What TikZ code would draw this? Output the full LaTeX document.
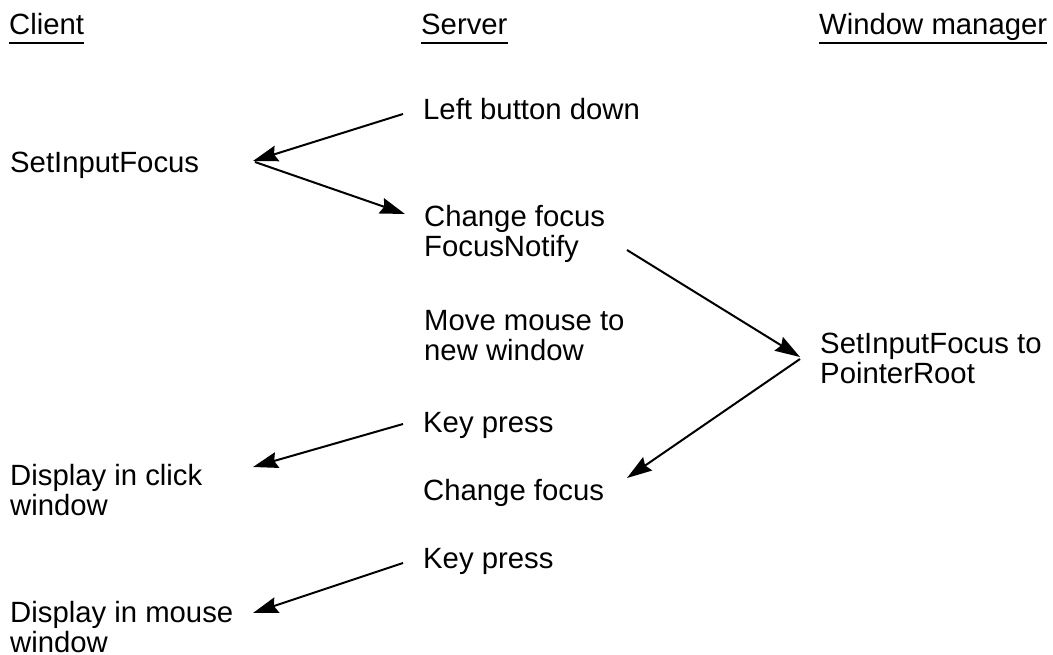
\documentclass[tikz,border=0pt]{standalone}
\usepackage{fontspec}
\setmainfont{Liberation Sans}
\usetikzlibrary{arrows.meta}
\newcommand{\mlines}[1]{\begin{tabular}[t]{@{}l@{}}#1\end{tabular}}
\begin{document}
\begin{tikzpicture}[x=1pt,y=-1pt,
  lbl/.style={inner sep=0pt,anchor=base west,font=\fontsize{29.3}{29.5}\selectfont},
  msg/.style={line width=2pt,-{Stealth[length=25pt,width=16pt,inset=3pt]}},
  uline/.style={line width=2pt}]
\useasboundingbox (0,0) rectangle (1053,654);
% headers
\node[lbl] (client) at (9,34) {Client};
\node[lbl] (server) at (421,34) {Server};
\node[lbl] (wm) at (819,34) {Window manager};
\draw[uline] ([yshift=-9pt]client.base west) -- ([yshift=-9pt]client.base east);
\draw[uline] ([yshift=-9pt]server.base west) -- ([yshift=-9pt]server.base east);
\draw[uline] ([yshift=-9pt]wm.base west) -- ([yshift=-9pt]wm.base east);
% texts
\node[lbl] (lbd) at (423,119) {Left button down};
\node[lbl] (sif) at (10,172) {SetInputFocus};
\node[lbl] (cf1) at (424,226) {\mlines{Change focus\\FocusNotify}};
\node[lbl] (mm) at (424,330) {\mlines{Move mouse to\\new window}};
\node[lbl] (sifpr) at (820,353) {\mlines{SetInputFocus to\\PointerRoot}};
\node[lbl] (kp1) at (423,432) {Key press};
\node[lbl] (dic) at (10,485) {\mlines{Display in click\\window}};
\node[lbl] (cf2) at (423,500) {Change focus};
\node[lbl] (kp2) at (423,568) {Key press};
\node[lbl] (dim) at (10,622) {\mlines{Display in mouse\\window}};
% arrows
\draw[msg] ([shift={(-20,-5)}]lbd.base west) -- ([shift={(243,-11)}]sif.base west);
\draw[msg] ([shift={(245,-10)}]sif.base west) -- ([shift={(-19,-12)}]cf1.base west);
\draw[msg] ([shift={(203,24)}]cf1.base west) -- ([shift={(-20,4)}]sifpr.base west);
\draw[msg] ([shift={(-20,6)}]sifpr.base west) -- ([shift={(204,-22)}]cf2.base west);
\draw[msg] ([shift={(-20,-8)}]kp1.base west) -- ([shift={(243,-18)}]dic.base west);
\draw[msg] ([shift={(-20,-5)}]kp2.base west) -- ([shift={(243,-9)}]dim.base west);
\end{tikzpicture}
\end{document}
